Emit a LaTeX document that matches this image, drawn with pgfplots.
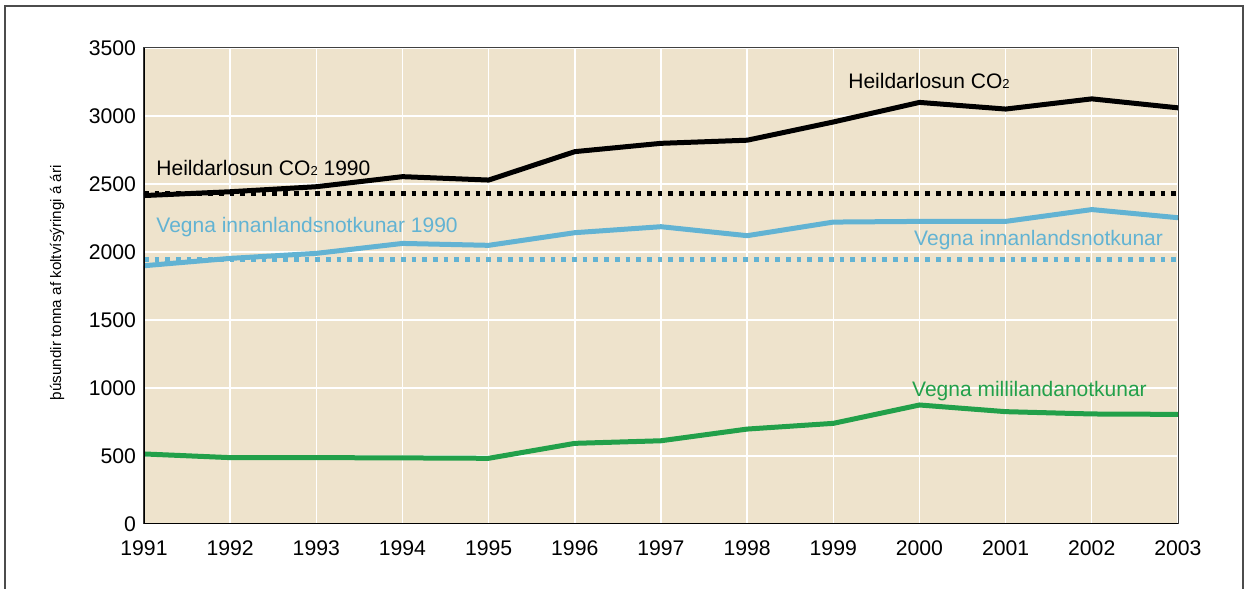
\documentclass[border=0pt]{standalone}
\usepackage{pgfplots}
\pgfplotsset{compat=1.18}
\usepackage{fontspec}
\setmainfont{Liberation Sans}
\definecolor{bgbeige}{HTML}{EEE3CC}
\definecolor{lblue}{HTML}{62B3D3}
\definecolor{dgreen}{HTML}{22A04A}
\newcommand{\sub}{{\fontsize{6.5pt}{6.5pt}\selectfont 2}}
\begin{document}
\begin{tikzpicture}
\useasboundingbox (0,0) rectangle (624.5pt,294.5pt);
\begin{axis}[
  at={(72pt,32.5pt)}, anchor=south west,
  scale only axis, width=517pt, height=238pt,
  xmin=1991, xmax=2003, ymin=0, ymax=3500,
  xtick={1991,1992,...,2003}, ytick={0,500,...,3500},
  /pgf/number format/1000 sep={},
  /pgf/number format/assume math mode=true,
  tick label style={font=\fontsize{10.6pt}{12pt}\selectfont},
  major tick length=0pt,
  yticklabel style={xshift=-0.5pt},
  xticklabel style={yshift=-5pt},
  grid=major, grid style={white, line width=0.75pt},
  axis background/.style={fill=bgbeige},
  axis line style={draw=black!75, line width=0.5pt},
  ylabel={þúsundir tonna af koltvísýringi á ári},
  ylabel style={at={(axis description cs:-0.084,0.507)}, anchor=center, font=\fontsize{7.6pt}{9pt}\selectfont},
  every axis plot/.append style={line width=2.5pt, no markers},
]
\addplot[black, line width=2.4pt, dash pattern=on 2.35pt off 3pt] coordinates {(1991,2433) (2003,2433)};
\addplot[lblue, line width=2.4pt, dash pattern=on 2.35pt off 3pt] coordinates {(1991,1947) (2003,1947)};
\addplot[black] coordinates {(1991,2415) (1992,2443) (1993,2480) (1994,2554) (1995,2529) (1996,2738) (1997,2799) (1998,2822) (1999,2956) (2000,3100) (2001,3051) (2002,3126) (2003,3060)};
\addplot[lblue] coordinates {(1991,1899) (1992,1953) (1993,1990) (1994,2063) (1995,2049) (1996,2142) (1997,2186) (1998,2120) (1999,2220) (2000,2225) (2001,2225) (2002,2312) (2003,2252)};
\addplot[dgreen] coordinates {(1991,515) (1992,488) (1993,488) (1994,486) (1995,483) (1996,593) (1997,612) (1998,698) (1999,740) (2000,875) (2001,826) (2002,809) (2003,806)};
\draw[black, line width=1pt] (rel axis cs:0,1) -- (rel axis cs:0,0) -- (rel axis cs:1,0);
\node[anchor=base west, inner sep=0pt, font=\fontsize{10.5pt}{12pt}\selectfont] at (axis cs:1991.14,2566) {Heildarlosun CO\sub{} 1990};
\node[anchor=base west, inner sep=0pt, text=lblue, font=\fontsize{10.5pt}{12pt}\selectfont] at (axis cs:1991.14,2140) {Vegna innanlandsnotkunar 1990};
\node[anchor=base west, inner sep=0pt, font=\fontsize{10.5pt}{12pt}\selectfont] at (axis cs:1999.17,3199) {Heildarlosun CO\sub};
\node[anchor=base east, inner sep=0pt, text=lblue, font=\fontsize{10.5pt}{12pt}\selectfont] at (axis cs:2002.83,2051) {Vegna innanlandsnotkunar};
\node[anchor=base west, inner sep=0pt, text=dgreen, font=\fontsize{10.5pt}{12pt}\selectfont] at (axis cs:1999.91,934) {Vegna millilandanotkunar};
\end{axis}
\draw[black!70, line width=0.75pt] (2.5pt,-2pt) -- (2.5pt,291.5pt) -- (621.5pt,291.5pt) -- (621.5pt,-2pt);
\end{tikzpicture}
\end{document}
